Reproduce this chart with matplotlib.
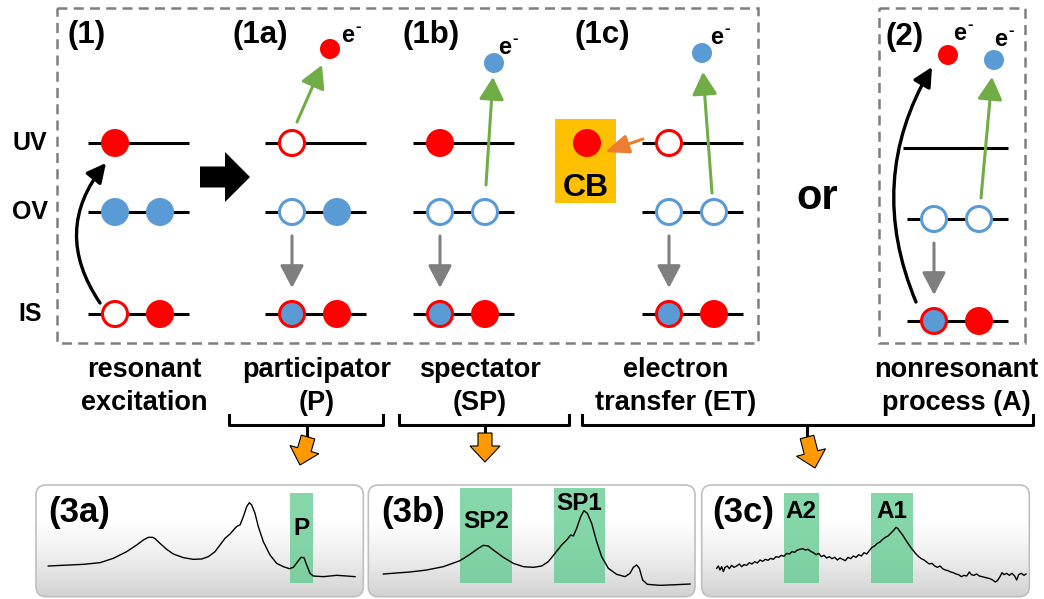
import matplotlib
matplotlib.use('Agg')
import numpy as np
import matplotlib.pyplot as plt
from matplotlib.patches import Circle, Rectangle, FancyArrow, FancyArrowPatch, FancyBboxPatch
from matplotlib.colors import LinearSegmentedColormap

plt.rcParams['font.family'] = ['Liberation Sans', 'DejaVu Sans']
plt.rcParams['font.weight'] = 'bold'

RED = '#FF0000'
BLUE = '#5B9BD5'
GREEN = '#70AD47'
GREY = '#7F7F7F'

# --- level schemes -------------------------------------------------------
level_names = ['UV', 'OV', 'IS']
panel_labels = ['(1)', '(1a)', '(1b)', '(1c)', '(2)']
# two sites per level: R/B filled red/blue, r/b emptied, X blue in red core hole
occ_1 = ['R-', 'BB', 'rR']
occ_1a = ['r-', 'bB', 'XR']
occ_1b = ['R-', 'bb', 'XR']
occ_1c = ['r-', 'bb', 'XR']
occ_2 = ['--', 'bb', 'XR']
occupations = [occ_1, occ_1a, occ_1b, occ_1c, occ_2]
ejected = ['', 'r', 'b', 'b', 'rb']
process_labels = [['resonant', 'excitation'], ['participator', '(P)'],
                  ['spectator', '(SP)'], ['electron', 'transfer (ET)'],
                  ['nonresonant', 'process (A)']]

# --- spectra (channel, counts) -------------------------------------------
spec_a_x = [145, 250, 300, 340, 380, 410, 430, 445, 458, 465, 480, 500, 520, 550, 580,
            605, 625, 645, 660, 675, 690, 705, 712, 720, 730, 740, 748, 755, 765, 775,
            790, 810, 830, 850, 868, 880, 893, 903, 912, 920, 930, 940, 970, 1010, 1040, 1065]
spec_a_y = [102, 107, 112, 125, 145, 165, 180, 188, 188, 184, 170, 152, 138, 127, 122,
            123, 130, 145, 165, 185, 198, 215, 222, 225, 250, 280, 292, 285, 260, 220,
            175, 135, 110, 100, 94, 98, 115, 128, 127, 105, 80, 72, 70, 74, 72, 70]

spec_b_x = [70, 150, 200, 250, 300, 330, 355, 370, 385, 400, 430, 460, 490, 520, 545,
            565, 585, 605, 620, 632, 640, 650, 662, 672, 682, 695, 710, 725, 745, 770,
            795, 810, 820, 830, 838, 848, 862, 900, 950, 990]
spec_b_y = [78, 84, 90, 100, 118, 137, 155, 164, 162, 150, 128, 110, 100, 98, 102,
            115, 140, 165, 180, 195, 192, 215, 250, 268, 260, 230, 175, 130, 95, 77,
            70, 80, 98, 105, 95, 60, 47, 44, 46, 48]

spec_c_x = [80, 85, 90, 95, 100, 105, 112, 118, 125, 132, 140, 148, 155, 162, 170, 178,
            186, 194, 202, 210, 218, 226, 234, 242, 250, 258, 266, 274, 282, 290, 298,
            306, 314, 322, 330, 338, 346, 354, 362, 370, 378, 386, 394, 402, 410, 418,
            426, 434, 442, 450, 458, 466, 474, 482, 490, 498, 506, 514, 522, 530, 538,
            546, 554, 562, 570, 578, 586, 594, 602, 610, 618, 624, 630, 638, 646, 654,
            662, 670, 678, 686, 694, 702, 710, 718, 726, 734, 742, 750, 758, 766, 774,
            782, 790, 798, 806, 814, 822, 830, 838, 844, 852, 860, 868, 876, 884, 892,
            900, 908, 916, 922, 930, 936, 942, 950, 958, 966, 974, 980, 986, 994, 1002, 1008]
spec_c_y = [95, 102, 90, 100, 85, 98, 102, 94, 104, 98, 102, 108, 100, 106, 104, 112,
            108, 115, 111, 120, 116, 122, 119, 125, 122, 130, 128, 134, 131, 140, 138,
            145, 143, 150, 152, 154, 150, 152, 146, 142, 136, 140, 130, 134, 126, 130,
            124, 128, 120, 126, 122, 118, 128, 124, 132, 128, 136, 132, 142, 138, 148,
            158, 162, 170, 174, 182, 188, 192, 200, 208, 218, 214, 205, 195, 182, 170,
            158, 148, 138, 130, 124, 120, 114, 108, 110, 102, 98, 102, 94, 90, 88,
            84, 82, 78, 76, 70, 74, 72, 84, 76, 74, 78, 72, 70, 68, 66,
            64, 60, 54, 58, 70, 82, 76, 80, 74, 80, 72, 60, 76, 80, 74, 78]

spec_labels = ['(3a)', '(3b)', '(3c)']
band_a = [(870, 938, 'P')]
band_b = [(300, 455, 'SP2'), (582, 735, 'SP1')]
band_c = [(282, 386, 'A2'), (543, 668, 'A1')]

# --- layout (pixels) -----------------------------------------------------
W, H = 1044, 599
fig = plt.figure(figsize=(W / 100, H / 100), dpi=100)
ax = fig.add_axes([0, 0, 1, 1])
ax.set_xlim(0, W)
ax.set_ylim(H, 0)
ax.axis('off')

line_x0 = [88, 265, 413, 642, 907]
level_y = [[143, 212, 314]] * 4 + [[148, 219, 321]]
label_x = [87, 260, 431, 602, 905]
eject_pos = [[], [(330, 49)], [(494, 63)], [(702, 53)], [(948, 55), (994, 60)]]
e_text_pos = [[], [(348, 36)], [(505, 47)], [(717, 38)], [(960, 33), (1001, 39)]]
green_arrows = [None, ((297, 122), (322, 65)), ((486, 185), (493, 77)),
                ((712, 193), (703, 72)), ((981, 198), (992, 77))]
process_x = [144, 317, 480, 676, 956]

ax.add_patch(Rectangle((57, 8), 701, 335, fill=False, ec=GREY, lw=1.8, ls=(0, (4, 2.5))))
ax.add_patch(Rectangle((879, 8), 146, 335, fill=False, ec=GREY, lw=1.8, ls=(0, (4, 2.5))))


def site(x, y, code):
    if code == 'R':
        ax.add_patch(Circle((x, y), 14, fc=RED, ec='none', zorder=3))
    elif code == 'B':
        ax.add_patch(Circle((x, y), 14, fc=BLUE, ec='none', zorder=3))
    elif code == 'r':
        ax.add_patch(Circle((x, y), 12.5, fc='white', ec=RED, lw=2.2, zorder=3))
    elif code == 'b':
        ax.add_patch(Circle((x, y), 12.5, fc='white', ec=BLUE, lw=2.2, zorder=3))
    elif code == 'X':
        ax.add_patch(Circle((x, y), 12.5, fc=BLUE, ec=RED, lw=2.2, zorder=3))


def arrow(p0, p1, color, lw=2.2, hl=18, hw=9, rad=0.0):
    style = f'-|>,head_length={hl / 13.9:.2f},head_width={hw / 13.9:.2f}'
    ax.add_patch(FancyArrowPatch(p0, p1, arrowstyle=style, mutation_scale=10,
                                 color=color, lw=lw, shrinkA=0, shrinkB=0,
                                 connectionstyle=f'arc3,rad={rad}', zorder=2))


for i, occ in enumerate(occupations):
    x0 = line_x0[i]
    for j, name in enumerate(level_names):
        y = level_y[i][j]
        xs = x0 - 4 if (i == 4 and j == 0) else x0
        ax.plot([xs, x0 + 101], [y, y], color='black', lw=2.2, zorder=1,
                solid_capstyle='butt')
        for k, code in enumerate(occ[j]):
            site(x0 + 27 + 45 * k, y, code)
    ax.text(label_x[i], 35 if i < 4 else 37, panel_labels[i], fontsize=22.5,
            ha='center', va='center')
    # core hole refilled from OV
    if i > 0:
        arrow((x0 + 27, level_y[i][1] + 24), (x0 + 27, level_y[i][2] - 26), GREY,
              hl=19, hw=10)
    if green_arrows[i] is not None:
        arrow(green_arrows[i][0], green_arrows[i][1], GREEN, hl=19, hw=10.5)
    for (ex, ey), c, (tx, ty) in zip(eject_pos[i], ejected[i], e_text_pos[i]):
        ax.add_patch(Circle((ex, ey), 10, fc=RED if c == 'r' else BLUE, ec='none', zorder=3))
        ax.text(tx, ty, 'e', fontsize=17, ha='center', va='center')
        ax.text(tx + 10, ty - 9, '-', fontsize=12, ha='center', va='center')
    top, bottom = process_labels[i]
    ax.text(process_x[i], 377, top, fontsize=19.5, ha='center', va='baseline')
    ax.text(process_x[i], 410, bottom, fontsize=19.5, ha='center', va='baseline')

for name, y in zip(level_names, level_y[0]):
    ax.text(30, y, name, fontsize=18, ha='center', va='center')

# excitation arrows
arrow((100, 303), (106, 163), 'black', lw=2.4, hl=16, hw=8, rad=-0.37)
arrow((916, 302), (932, 67), 'black', lw=2.4, hl=16, hw=8, rad=-0.25)

# block arrow between (1) and (1a)
ax.add_patch(FancyArrow(200, 177, 50, 0, width=21, head_width=50, head_length=25,
                        length_includes_head=True, color='black', lw=0))

# charge transfer into the conduction band
ax.add_patch(Rectangle((555, 119), 61, 84, fc='#FFC000', ec='none'))
site(587, 143, 'R')
ax.text(586, 188, 'CB', fontsize=23, ha='center', va='center')
arrow((643, 139), (605, 152), '#ED7D31', lw=2.2, hl=20, hw=8)

ax.text(817, 198, 'or', fontsize=30, ha='center', va='center')

# brackets leading to the spectra
brackets = [(229, 383, 307), (399, 569, 485), (582, 1033, 807)]
tips = [((308, 437), (300, 465)), ((485, 433), (485, 462)), ((807, 437), (815, 468))]
for (l, r, s), (p0, p1) in zip(brackets, tips):
    ax.plot([l, l, r, r], [415, 425, 425, 415], color='black', lw=2.2,
            solid_joinstyle='round')
    ax.plot([s, s], [425, p0[1] + 2], color='black', lw=2.2)
    ax.add_patch(FancyArrow(p0[0], p0[1], p1[0] - p0[0], p1[1] - p0[1], width=14,
                            head_width=30, head_length=16, length_includes_head=True,
                            fc='#FF9900', ec='black', lw=0.8, zorder=4))

# --- spectra panels ------------------------------------------------------
grad_cmap = LinearSegmentedColormap.from_list('panel', ['#d2d2d2', '#ececec', '#ffffff', '#ffffff'])
spectra = [(spec_a_x, spec_a_y, band_a), (spec_b_x, spec_b_y, band_b), (spec_c_x, spec_c_y, band_c)]
regions = [(0, 460, 370, 139), (360, 460, 340, 139), (690, 460, 354, 139)]
box_x = [(108, 1090), (25, 1005), (35, 1018)]
label_left = [145, 65, 68]
band_label_y = {'P': 215, 'SP2': 235, 'SP1': 290, 'A2': 265, 'A1': 265}

for (sx, sy, bands), (lp, tp, wp, hp), (bx0, bx1), lab, ll in zip(
        spectra, regions, box_x, spec_labels, label_left):
    sa = fig.add_axes([lp / W, 1 - (tp + hp) / H, wp / W, hp / H])
    box = FancyBboxPatch((bx0, 10), bx1 - bx0, 335, boxstyle='round,pad=0,rounding_size=30',
                         fc='none', ec='#BFBFBF', lw=1.2, zorder=3)
    sa.add_patch(box)
    grad = np.linspace(0, 1, 256).reshape(-1, 1)
    im = sa.imshow(grad, extent=(bx0, bx1, 10, 345), origin='lower', cmap=grad_cmap,
                   aspect='auto', zorder=0)
    im.set_clip_path(box)
    for b0, b1, bl in bands:
        sa.add_patch(Rectangle((b0, 52), b1 - b0, 268 if bl in ('P', 'A2', 'A1') else 283,
                               fc='#5CC98C', alpha=0.75, ec='none', zorder=1))
        sa.text((b0 + b1) / 2, band_label_y[bl], bl, fontsize=17.5, ha='center',
                va='center', zorder=4)
    sa.plot(sx, sy, color='black', lw=1.0, zorder=2)
    sa.text(ll, 262, lab, fontsize=25, ha='left', va='center', zorder=4)
    sa.set_xlim(0, 3 * wp)
    sa.set_ylim(3, 3 * hp + 3)
    sa.axis('off')

fig.savefig('out.png', dpi=100)
